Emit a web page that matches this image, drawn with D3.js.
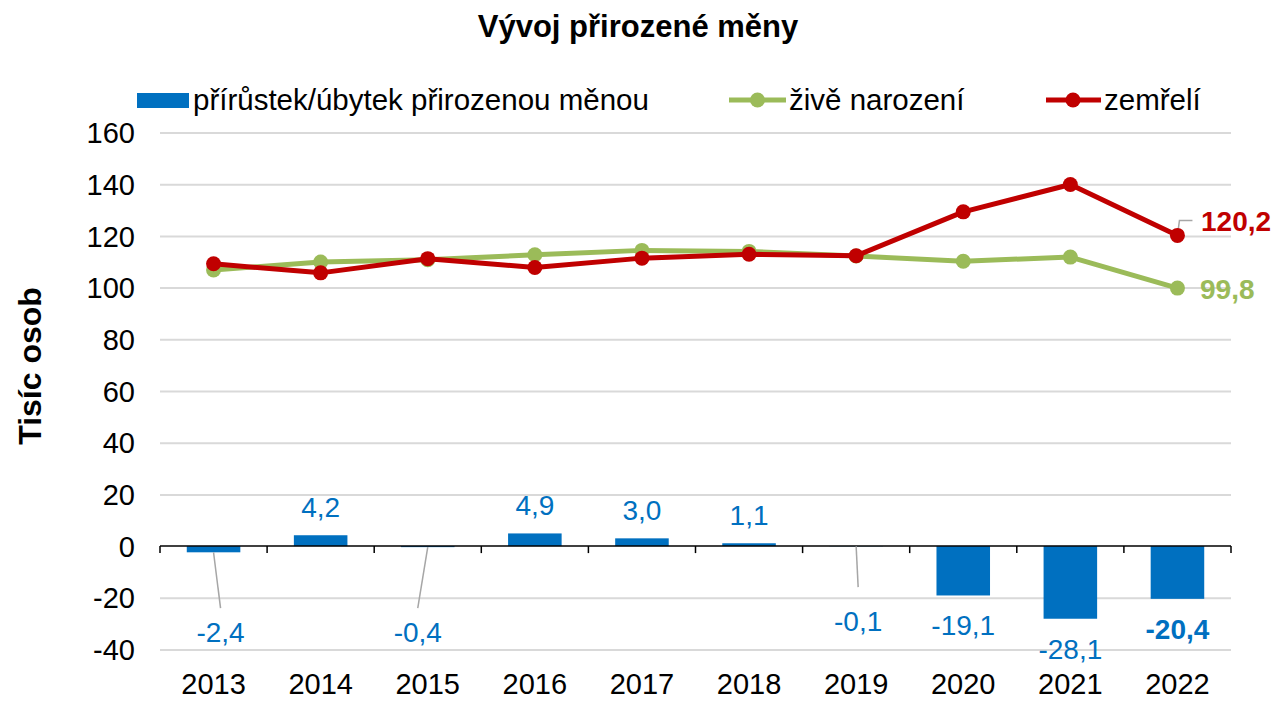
<!DOCTYPE html>
<html>
<head>
<meta charset="utf-8">
<script src="https://cdn.jsdelivr.net/npm/d3@7"></script>
<style>
  html, body { margin: 0; padding: 0; background: #fff; }
  svg { display: block; font-family: "Liberation Sans", Arial, sans-serif; }
</style>
</head>
<body>
<svg id="chart" width="1274" height="702"></svg>
<script>
// ---- data ----
const years = ["2013", "2014", "2015", "2016", "2017", "2018", "2019", "2020", "2021", "2022"];
const naturalIncrease = [-2.4, 4.2, -0.4, 4.9, 3.0, 1.1, -0.1, -19.1, -28.1, -20.4];
const liveBirths = [106.8, 109.9, 110.8, 112.7, 114.4, 114.0, 112.2, 110.2, 111.8, 99.8];
const deaths = [109.2, 105.7, 111.2, 107.8, 111.4, 112.9, 112.3, 129.3, 139.9, 120.2];
const yTicks = [-40, -20, 0, 20, 40, 60, 80, 100, 120, 140, 160];
const seriesNames = ["přírůstek/úbytek přirozenou měnou", "živě narození", "zemřelí"];
const chartTitle = "Vývoj přirozené měny";
const yAxisTitle = "Tisíc osob";

// ---- styles ----
const BLUE = "#0070C0", GREEN = "#9BBB59", RED = "#C00000", GRID = "#D9D9D9", LEADER = "#A6A6A6";
const fmt = v => d3.format(".1f")(v).replace("\u2212", "-").replace(".", ",");

(function () {
const svg = d3.select("#chart");
const pLeft = 160, pRight = 1231, pTop = 132.5, pBottom = 649.5;

const x = d3.scaleBand().domain(years).range([pLeft, pRight]).paddingInner(0).paddingOuter(0);
const y = d3.scaleLinear().domain([-40, 160]).range([pBottom, pTop]);
const barW = x.bandwidth() * 0.5;
const cx = d => x(d) + x.bandwidth() / 2;

// title
svg.append("text").attr("x", 638).attr("y", 37).attr("text-anchor", "middle")
  .attr("font-size", 31).attr("font-weight", "bold").attr("fill", "#000").text(chartTitle);

// y axis title
svg.append("text").attr("transform", `translate(41,366) rotate(-90)`).attr("text-anchor", "middle")
  .attr("font-size", 32).attr("font-weight", "bold").attr("fill", "#000").text(yAxisTitle);

// gridlines + y tick labels
const yAxis = d3.axisLeft(y).tickValues(yTicks).tickSize(-(pRight - pLeft)).tickFormat(d => String(d));
const gy = svg.append("g").attr("transform", `translate(${pLeft},0)`).call(yAxis);
gy.select(".domain").remove();
gy.selectAll(".tick line").attr("stroke", GRID).attr("stroke-width", 2)
  .attr("stroke-opacity", d => d === 0 ? 0 : 1);
gy.selectAll(".tick text").attr("x", -25).attr("dy", "0.35em").attr("font-size", 29)
  .attr("font-family", "Liberation Sans, Arial, sans-serif").attr("fill", "#000");

// bars
svg.append("g").selectAll("rect").data(naturalIncrease).join("rect")
  .attr("x", (d, i) => cx(years[i]) - barW / 2)
  .attr("y", d => y(Math.max(0, d)))
  .attr("width", barW)
  .attr("height", d => Math.abs(y(d) - y(0)))
  .attr("fill", BLUE);

// x axis at zero
const xAxis = d3.axisBottom(x).tickSize(0).tickFormat("");
const gx = svg.append("g").attr("transform", `translate(0,${y(0)})`).call(xAxis);
gx.select(".domain").attr("stroke", "#000").attr("stroke-width", 1.5).attr("d", `M${pLeft},0H${pRight}`);
const boundaries = years.map(d => x(d)).concat([pRight]);
gx.selectAll("line.bnd").data(boundaries).join("line").attr("class", "bnd")
  .attr("x1", d => d).attr("x2", d => d).attr("y1", 0).attr("y2", 7)
  .attr("stroke", "#000").attr("stroke-width", 1.5);

// year labels
svg.append("g").selectAll("text").data(years).join("text")
  .attr("x", d => cx(d)).attr("y", 694).attr("text-anchor", "middle")
  .attr("font-size", 29).attr("fill", "#000").text(d => d);

// bar labels
const callouts = {
  "2013": { dx: 7, base: 96, lineEnd: 62 },
  "2015": { dx: -10, base: 96, lineEnd: 62 },
  "2019": { dx: 2, base: 85, lineEnd: 41 }
};
const gl = svg.append("g");
naturalIncrease.forEach((v, i) => {
  const yr = years[i];
  let tx = cx(yr), ty;
  if (v >= 0) {
    ty = y(v) - 18;
  } else if (callouts[yr]) {
    const c = callouts[yr];
    tx = cx(yr) + c.dx;
    ty = y(0) + c.base;
    gl.append("line").attr("x1", cx(yr)).attr("y1", y(v))
      .attr("x2", tx).attr("y2", y(0) + c.lineEnd)
      .attr("stroke", LEADER).attr("stroke-width", 1.5);
  } else {
    ty = y(v) + 40;
  }
  gl.append("text").attr("x", tx).attr("y", ty).attr("text-anchor", "middle")
    .attr("font-size", 28).attr("fill", BLUE)
    .attr("font-weight", i === years.length - 1 ? "bold" : "normal")
    .text(fmt(v));
});

// lines
const line = d3.line().x((d, i) => cx(years[i])).y(d => y(d));
function drawSeries(vals, color) {
  const g = svg.append("g");
  g.append("path").datum(vals).attr("d", line).attr("fill", "none")
    .attr("stroke", color).attr("stroke-width", 5).attr("stroke-linejoin", "round");
  g.selectAll("circle").data(vals).join("circle")
    .attr("cx", (d, i) => cx(years[i])).attr("cy", d => y(d)).attr("r", 7.5).attr("fill", color);
}
const lastYear = years[years.length - 1];
const lastX = cx(lastYear);
const lastDeath = deaths[deaths.length - 1];
const lastBirth = liveBirths[liveBirths.length - 1];
drawSeries(liveBirths, GREEN);
svg.append("path")
  .attr("d", `M${lastX},${y(lastDeath)}L${lastX + 2},${y(lastDeath) - 15}H${lastX + 15}`)
  .attr("fill", "none").attr("stroke", LEADER).attr("stroke-width", 1.5);
drawSeries(deaths, RED);

// end labels
svg.append("text").attr("x", 1201).attr("y", y(lastDeath) - 4.5)
  .attr("font-size", 28).attr("font-weight", "bold").attr("fill", RED).text(fmt(lastDeath));
svg.append("text").attr("x", 1200).attr("y", y(lastBirth) + 11)
  .attr("font-size", 28).attr("font-weight", "bold").attr("fill", GREEN).text(fmt(lastBirth));

// legend
const lg = svg.append("g");
lg.append("rect").attr("x", 137).attr("y", 93).attr("width", 52).attr("height", 15).attr("fill", BLUE);
lg.append("text").attr("x", 193).attr("y", 110).attr("font-size", 29.5).attr("fill", "#000").text(seriesNames[0]);
[[GREEN, 729, 786, 757.5, 789, seriesNames[1]], [RED, 1046, 1101, 1073, 1104, seriesNames[2]]].forEach(([c, x1, x2, mx, tx, name]) => {
  lg.append("line").attr("x1", x1).attr("x2", x2).attr("y1", 100).attr("y2", 100)
    .attr("stroke", c).attr("stroke-width", 5);
  lg.append("circle").attr("cx", mx).attr("cy", 100).attr("r", 7.5).attr("fill", c);
  lg.append("text").attr("x", tx).attr("y", 110).attr("font-size", 29.5).attr("fill", "#000").text(name);
});
})();
</script>
</body>
</html>
